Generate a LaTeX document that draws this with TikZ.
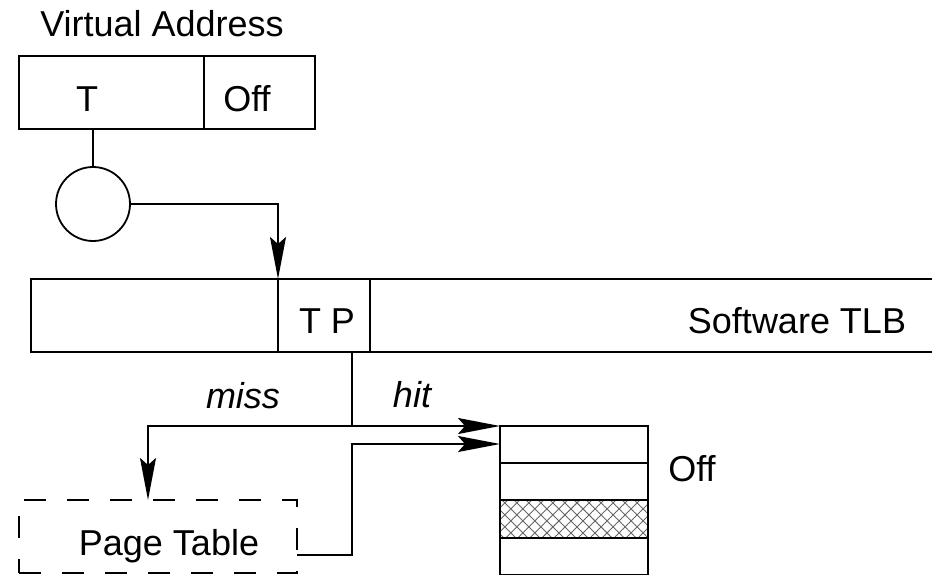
\documentclass[tikz,border=0pt]{standalone}
\usepackage{fontspec}
\setmainfont{Liberation Sans}
\usetikzlibrary{arrows.meta,patterns.meta}
\begin{document}
\begin{tikzpicture}[x=1pt,y=-1pt, line width=1.8pt,
  every node/.style={font=\fontsize{36}{43}\selectfont},
  cell/.style={draw, rectangle, inner sep=0pt, outer sep=0pt, anchor=north west},
  txt/.style={anchor=base, inner sep=0pt},
  arr/.style={-{Stealth[length=42pt,width=16pt,inset=7pt]}},
  hatchA/.style={pattern={Lines[angle=45,distance=8.5pt,line width=0.9pt]}, pattern color=gray!80!black},
  hatchB/.style={pattern={Lines[angle=-45,distance=8.5pt,line width=0.9pt]}, pattern color=gray!80!black},
]
\useasboundingbox (0,0) rectangle (932,575);
\clip (0,0) rectangle (932,575);

% virtual address
\node[txt] (vaname) at (162,37) {Virtual Address};
\node[cell, minimum width=185pt, minimum height=73pt] (vaT) at (19,56) {};
\node[cell, minimum width=111pt, minimum height=73pt] (vaOff) at (204,56) {};
\node[txt] (vaTl) at (87,112) {T};
\node[txt] (vaOffl) at (247,112) {Off};

% hash function
\node[circle, draw, minimum size=74pt, inner sep=0pt] (hash) at (93,204) {};

% software TLB
\node[cell, minimum width=247pt, minimum height=73pt] (tlbL) at (31,279) {};
\node[cell, minimum width=92pt, minimum height=73pt] (tlbTP) at (278,279) {};
\node[cell, minimum width=600pt, minimum height=73pt] (tlbR) at (370,279) {};
\node[txt] (tpl) at (327,333) {T P};
\node[txt] (tlbname) at (797,333) {Software TLB};

% page table
\node[cell, dashed, dash pattern=on 22pt off 21pt, minimum width=278pt, minimum height=73pt] (pt) at (19,500) {};
\node[txt] (ptname) at (169,555) {Page Table};

% physical page
\node[cell, minimum width=148pt, minimum height=37pt] (m1) at (500,426) {};
\node[cell, minimum width=148pt, minimum height=37pt] (m2) at (500,463) {};
\node[cell, hatchA, minimum width=148pt, minimum height=38pt] (m3) at (500,500) {};
\fill[hatchB] (m3.south west) rectangle (m3.north east);
\draw (m3.south west) rectangle (m3.north east);
\node[cell, minimum width=148pt, minimum height=37pt] (m4) at (500,538) {};
\node[txt] (offname) at (692,481) {Off};

% labels
\node[txt, font=\fontsize{36}{43}\selectfont\itshape] (miss) at (243,408) {miss};
\node[txt, font=\fontsize{36}{43}\selectfont\itshape] (hit) at (412,407) {hit};

% connectors
\coordinate (split) at (352,426);
\coordinate (back) at (352,444);
\coordinate (ptin) at (148,500);
\coordinate (ptout) at (297,555);
\draw (vaT.south -| hash.north) -- (hash.north);
\draw[arr] (hash.east) -| (tlbL.north east);
\draw (split |- tlbTP.south) -- (split);
\draw[arr] (split) -| (ptin);
\draw[arr] (split) -- (m1.north west);
\draw[arr] (ptout) -| (back) -- (back -| m1.west);
\end{tikzpicture}
\end{document}
